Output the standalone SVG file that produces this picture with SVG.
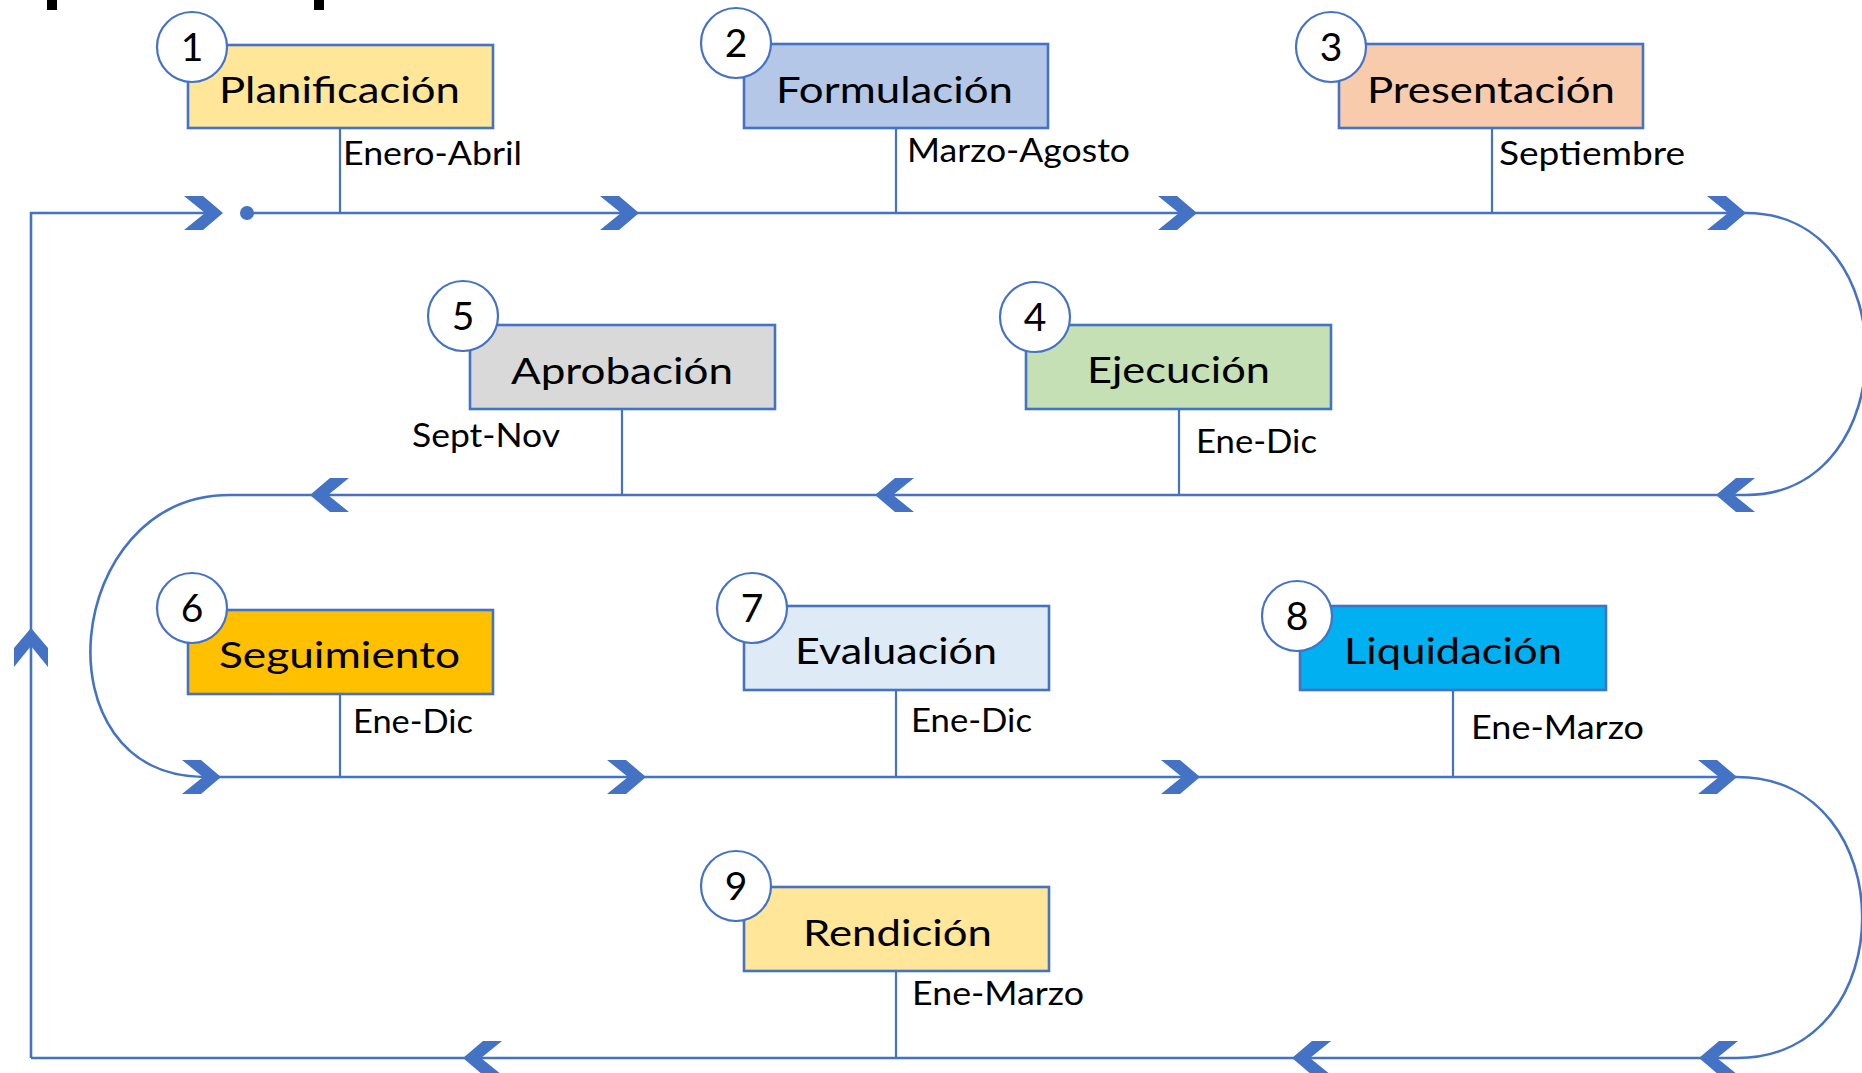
<svg xmlns="http://www.w3.org/2000/svg" xmlns:xlink="http://www.w3.org/1999/xlink" width="1862" height="1073" viewBox="0 0 1862 1073">
<style>
.ln{fill:none;stroke:#4472C4;stroke-width:2.6}
.tk{fill:none;stroke:#4472C4;stroke-width:2.2}
.bx{stroke:#4472C4;stroke-width:2.6}
.cir{fill:#ffffff;stroke:#4472C4;stroke-width:2.2}
.t{font-family:Lato,"Liberation Sans",sans-serif;fill:#000}
.bt{font-size:37px}
.lb{font-size:32px}
.nm{font-size:39px;text-anchor:middle}
.chev{fill:#4472C4}
</style>
<defs>
<path id="chev" d="M-39,-17 L-20,-17 L0,0 L-20,17 L-39,17 L-18,0 Z"/>
</defs>
<rect x="0" y="0" width="1862" height="1073" fill="#ffffff"/>
<rect x="47" y="0" width="10" height="10" fill="#000"/>
<rect x="314" y="0" width="10" height="10" fill="#000"/>

<g id="connectors">
<path class="ln" d="M31,1058 L31,213 L205,213"/>
<path class="ln" d="M247,213 L1746,213 C1906,213 1906,495 1746,495 L230,495 C62,495 36,777 205,777 L1737,777 C1904,777 1904,1058 1737,1058 L31,1058"/>
<circle cx="247" cy="213" r="7" fill="#4472C4"/>
<line class="tk" x1="340" y1="128" x2="340" y2="213"/>
<line class="tk" x1="896" y1="128" x2="896" y2="213"/>
<line class="tk" x1="1492" y1="128" x2="1492" y2="213"/>
<line class="tk" x1="622" y1="409" x2="622" y2="495"/>
<line class="tk" x1="1179" y1="409" x2="1179" y2="495"/>
<line class="tk" x1="340" y1="694" x2="340" y2="777"/>
<line class="tk" x1="896" y1="690" x2="896" y2="777"/>
<line class="tk" x1="1453" y1="690" x2="1453" y2="777"/>
<line class="tk" x1="896" y1="971" x2="896" y2="1058"/>
<use xlink:href="#chev" class="chev" transform="translate(223,213)"/>
<use xlink:href="#chev" class="chev" transform="translate(639,213)"/>
<use xlink:href="#chev" class="chev" transform="translate(1197,213)"/>
<use xlink:href="#chev" class="chev" transform="translate(1746,213)"/>
<use xlink:href="#chev" class="chev" transform="translate(310,495) scale(-1,1)"/>
<use xlink:href="#chev" class="chev" transform="translate(875,495) scale(-1,1)"/>
<use xlink:href="#chev" class="chev" transform="translate(1716,495) scale(-1,1)"/>
<use xlink:href="#chev" class="chev" transform="translate(221,777)"/>
<use xlink:href="#chev" class="chev" transform="translate(646,777)"/>
<use xlink:href="#chev" class="chev" transform="translate(1200,777)"/>
<use xlink:href="#chev" class="chev" transform="translate(1737,777)"/>
<use xlink:href="#chev" class="chev" transform="translate(463,1058) scale(-1,1)"/>
<use xlink:href="#chev" class="chev" transform="translate(1292,1058) scale(-1,1)"/>
<use xlink:href="#chev" class="chev" transform="translate(1699,1058) scale(-1,1)"/>
<use xlink:href="#chev" class="chev" transform="translate(31,628) rotate(-90)"/>
</g>

<g id="n1">
<rect class="bx" x="188" y="45" width="305" height="83" fill="#FFE699"/>
<circle class="cir" cx="192" cy="47" r="35"/>
<text class="t nm" x="192" y="61">1</text>
<text class="t bt" x="219" y="103" textLength="241" lengthAdjust="spacingAndGlyphs">Planificación</text>
<text class="t lb" x="343" y="165" textLength="179" lengthAdjust="spacingAndGlyphs">Enero-Abril</text>
</g>
<g id="n2">
<rect class="bx" x="744" y="44" width="304" height="84" fill="#B4C7E7"/>
<circle class="cir" cx="736" cy="43" r="35"/>
<text class="t nm" x="736" y="57">2</text>
<text class="t bt" x="776" y="103" textLength="237" lengthAdjust="spacingAndGlyphs">Formulación</text>
<text class="t lb" x="907" y="162" textLength="223" lengthAdjust="spacingAndGlyphs">Marzo-Agosto</text>
</g>
<g id="n3">
<rect class="bx" x="1339" y="44" width="304" height="84" fill="#F8CBAD"/>
<circle class="cir" cx="1331" cy="47" r="35"/>
<text class="t nm" x="1331" y="61">3</text>
<text class="t bt" x="1367" y="103" textLength="248" lengthAdjust="spacingAndGlyphs">Presentación</text>
<text class="t lb" x="1499" y="165" textLength="186" lengthAdjust="spacingAndGlyphs">Septiembre</text>
</g>
<g id="n4">
<rect class="bx" x="1026" y="325" width="305" height="84" fill="#C5E0B4"/>
<circle class="cir" cx="1035" cy="317" r="35"/>
<text class="t nm" x="1035" y="331">4</text>
<text class="t bt" x="1087" y="383" textLength="183" lengthAdjust="spacingAndGlyphs">Ejecución</text>
<text class="t lb" x="1196" y="453" textLength="121" lengthAdjust="spacingAndGlyphs">Ene-Dic</text>
</g>
<g id="n5">
<rect class="bx" x="470" y="325" width="305" height="84" fill="#D9D9D9"/>
<circle class="cir" cx="463" cy="316" r="35"/>
<text class="t nm" x="463" y="330">5</text>
<text class="t bt" x="511" y="384" textLength="222" lengthAdjust="spacingAndGlyphs">Aprobación</text>
<text class="t lb" x="412" y="447" textLength="148" lengthAdjust="spacingAndGlyphs">Sept-Nov</text>
</g>
<g id="n6">
<rect class="bx" x="188" y="610" width="305" height="84" fill="#FFC000"/>
<circle class="cir" cx="192" cy="608" r="35"/>
<text class="t nm" x="192" y="622">6</text>
<text class="t bt" x="219" y="668" textLength="241" lengthAdjust="spacingAndGlyphs">Seguimiento</text>
<text class="t lb" x="353" y="733" textLength="120" lengthAdjust="spacingAndGlyphs">Ene-Dic</text>
</g>
<g id="n7">
<rect class="bx" x="744" y="606" width="305" height="84" fill="#DEEBF7"/>
<circle class="cir" cx="752" cy="608" r="35"/>
<text class="t nm" x="752" y="622">7</text>
<text class="t bt" x="795" y="664" textLength="202" lengthAdjust="spacingAndGlyphs">Evaluación</text>
<text class="t lb" x="911" y="732" textLength="121" lengthAdjust="spacingAndGlyphs">Ene-Dic</text>
</g>
<g id="n8">
<rect class="bx" x="1300" y="606" width="306" height="84" fill="#00B0F0"/>
<circle class="cir" cx="1297" cy="616" r="35"/>
<text class="t nm" x="1297" y="630">8</text>
<text class="t bt" x="1344" y="664" textLength="218" lengthAdjust="spacingAndGlyphs">Liquidación</text>
<text class="t lb" x="1471" y="739" textLength="173" lengthAdjust="spacingAndGlyphs">Ene-Marzo</text>
</g>
<g id="n9">
<rect class="bx" x="744" y="887" width="305" height="84" fill="#FFE699"/>
<circle class="cir" cx="736" cy="886" r="35"/>
<text class="t nm" x="736" y="900">9</text>
<text class="t bt" x="803" y="946" textLength="189" lengthAdjust="spacingAndGlyphs">Rendición</text>
<text class="t lb" x="912" y="1005" textLength="172" lengthAdjust="spacingAndGlyphs">Ene-Marzo</text>
</g>
</svg>
